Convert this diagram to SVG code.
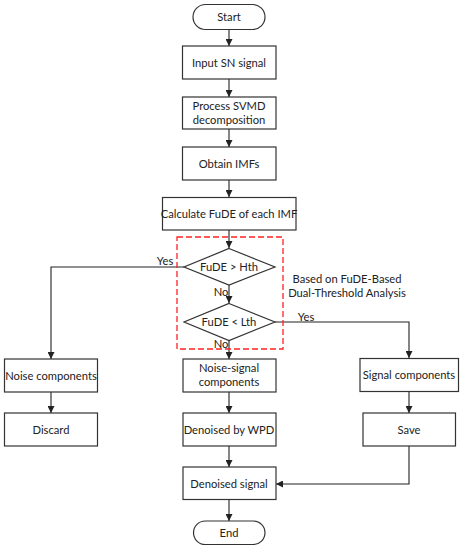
<svg xmlns="http://www.w3.org/2000/svg" width="462" height="550" viewBox="0 0 462 550">
<defs>
<style>
.n{fill:#fff;stroke:#333;stroke-width:1.2}
.t{font-family:Lato,"Liberation Sans",sans-serif;font-size:11.2px;fill:#222;text-anchor:middle}
.c{fill:none;stroke:#222;stroke-width:1.1}
</style>
<marker id="a" viewBox="0 0 10 10" refX="10" refY="5" markerWidth="7" markerHeight="7" markerUnits="userSpaceOnUse" orient="auto">
<path d="M0,0 L10,5 L0,10 z" fill="#222"/>
</marker>
</defs>
<rect width="462" height="550" fill="#fff"/>
<g id="connectors">
<path class="c" d="M229,29 V46" marker-end="url(#a)"/>
<path class="c" d="M229,79 V97" marker-end="url(#a)"/>
<path class="c" d="M229,129 V147" marker-end="url(#a)"/>
<path class="c" d="M229,180 V197" marker-end="url(#a)"/>
<path class="c" d="M229,230 V248" marker-end="url(#a)"/>
<path class="c" d="M229,285 V303" marker-end="url(#a)"/>
<path class="c" d="M229,341 V359" marker-end="url(#a)"/>
<path class="c" d="M229,392 V413" marker-end="url(#a)"/>
<path class="c" d="M229,446 V467" marker-end="url(#a)"/>
<path class="c" d="M229,499 V521" marker-end="url(#a)"/>
<path class="c" d="M184,267 H51 V359" marker-end="url(#a)"/>
<path class="c" d="M51,392 V413" marker-end="url(#a)"/>
<path class="c" d="M275,322 H409 V358" marker-end="url(#a)"/>
<path class="c" d="M409,392 V413" marker-end="url(#a)"/>
<path class="c" d="M409,446 V484 H276" marker-end="url(#a)"/>
<text class="t" x="165" y="265">Yes</text>
<text class="t" x="306" y="321">Yes</text>
<text class="t" x="221" y="296">No</text>
<text class="t" x="221" y="348">No</text>
</g>
<g id="region">
<rect x="177" y="237" width="106" height="112" fill="none" stroke="#f22" stroke-width="1.3" stroke-dasharray="6,3"/>
<text class="t" x="347" y="283">Based on FuDE-Based</text>
<text class="t" x="347" y="296.5">Dual-Threshold Analysis</text>
</g>
<g id="start"><rect class="n" x="193" y="4.5" width="72" height="25" rx="12.5"/><text class="t" x="229" y="21">Start</text></g>
<g id="input"><rect class="n" x="182.5" y="46" width="93.5" height="33"/><text class="t" x="229" y="66.5">Input SN signal</text></g>
<g id="process"><rect class="n" x="182.5" y="97" width="93.5" height="32"/><text class="t" x="229" y="110">Process SVMD</text><text class="t" x="229" y="124">decomposition</text></g>
<g id="obtain"><rect class="n" x="182.5" y="147" width="93.5" height="33"/><text class="t" x="229" y="167.5">Obtain IMFs</text></g>
<g id="calc"><rect class="n" x="162.5" y="197.5" width="133.5" height="32.5"/><text class="t" x="229" y="218">Calculate FuDE of each IMF</text></g>
<g id="d1"><polygon class="n" points="229,248.5 275,267 229,285 184,267"/><text class="t" x="229" y="271">FuDE &gt; Hth</text></g>
<g id="d2"><polygon class="n" points="229,303.5 275,322 229,340.5 184,322"/><text class="t" x="229" y="326">FuDE &lt; Lth</text></g>
<g id="noise"><rect class="n" x="4.5" y="359" width="93" height="33"/><text class="t" x="51" y="379.5">Noise components</text></g>
<g id="discard"><rect class="n" x="4.5" y="413" width="93" height="33"/><text class="t" x="51" y="433.5">Discard</text></g>
<g id="ns"><rect class="n" x="183" y="359" width="93" height="33"/><text class="t" x="229" y="372">Noise-signal</text><text class="t" x="229" y="386">components</text></g>
<g id="wpd"><rect class="n" x="183" y="413" width="93" height="33"/><text class="t" x="229" y="433.5">Denoised by WPD</text></g>
<g id="ds"><rect class="n" x="183" y="467" width="93" height="32.5"/><text class="t" x="229" y="487.5">Denoised signal</text></g>
<g id="end"><rect class="n" x="193.5" y="521" width="71.5" height="23.5" rx="11.75"/><text class="t" x="229" y="537">End</text></g>
<g id="sig"><rect class="n" x="360" y="358.5" width="98.5" height="33"/><text class="t" x="409" y="379">Signal components</text></g>
<g id="save"><rect class="n" x="363" y="413" width="92.5" height="33"/><text class="t" x="409" y="433.5">Save</text></g>
</svg>
